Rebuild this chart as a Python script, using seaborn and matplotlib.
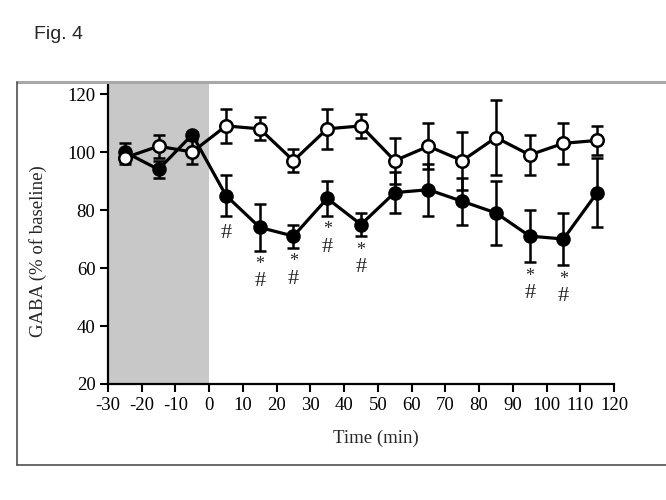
import matplotlib
matplotlib.use("Agg")
import matplotlib.pyplot as plt
from matplotlib.lines import Line2D
import seaborn as sns
import pandas as pd
import numpy as np

# ---- data ----
time = [-25, -15, -5, 5, 15, 25, 35, 45, 55, 65, 75, 85, 95, 105, 115]
control_mean = [98, 102, 100, 109, 108, 97, 108, 109, 97, 102, 97, 105, 99, 103, 104]
control_sem = [2, 4, 4, 6, 4, 4, 7, 4, 8, 8, 10, 13, 7, 7, 5]
treated_mean = [100, 94, 106, 85, 74, 71, 84, 75, 86, 87, 83, 79, 71, 70, 86]
treated_sem = [3, 3, 1, 7, 8, 4, 6, 4, 7, 9, 8, 11, 9, 9, 12]
sig_labels = ["", "", "", "#", "*\n#", "*\n#", "*\n#", "*\n#", "", "", "", "", "*\n#", "*\n#", ""]
x_ticks = [-30, -20, -10, 0, 10, 20, 30, 40, 50, 60, 70, 80, 90, 100, 110, 120]
y_ticks = [20, 40, 60, 80, 100, 120]

df = pd.DataFrame({"time": time * 2,
                   "value": control_mean + treated_mean,
                   "group": ["control"] * len(time) + ["treated"] * len(time)})

sns.set_style("ticks")
plt.rcParams["font.family"] = ["Liberation Serif", "DejaVu Serif"]
plt.rcParams["axes.unicode_minus"] = False

fig = plt.figure(figsize=(6.66, 5.0), dpi=100)
ax = fig.add_axes([0.162, 0.232, 0.922 - 0.162, 0.834 - 0.232])

ax.axvspan(-30, 0, color="#c8c8c8", lw=0, zorder=0)

# error bars
ax.errorbar(time, treated_mean, yerr=treated_sem, fmt="none", ecolor="black",
            elinewidth=1.8, capsize=4.2, capthick=1.8, zorder=2)
ax.errorbar(time, control_mean, yerr=control_sem, fmt="none", ecolor="black",
            elinewidth=1.8, capsize=4.2, capthick=1.8, zorder=2)

sns.lineplot(data=df[df.group == "treated"], x="time", y="value", ax=ax,
             color="black", lw=2.3, marker="o", markersize=9,
             markerfacecolor="black", markeredgecolor="black", markeredgewidth=1.5,
             zorder=3, legend=False)
sns.lineplot(data=df[df.group == "control"], x="time", y="value", ax=ax,
             color="black", lw=2.3, marker="o", markersize=9,
             markerfacecolor="white", markeredgecolor="black", markeredgewidth=1.8,
             zorder=4, legend=False)

# significance marks below treated error bars
for t, m, s, lab in zip(time, treated_mean, treated_sem, sig_labels):
    if not lab:
        continue
    low = m - s
    if lab == "#":
        ax.text(t, low - 6.0, "#", ha="center", va="center", fontsize=16)
    else:
        ax.text(t, low - 4.8, "*", ha="center", va="center", fontsize=13)
        ax.text(t, low - 10.8, "#", ha="center", va="center", fontsize=16)

ax.set_xlim(-30, 120)
ax.set_ylim(20, 123.8)
ax.set_xticks(x_ticks)
ax.set_yticks(y_ticks)
ax.tick_params(direction="out", length=6, width=1.5, labelsize=13.5, colors="black", pad=3)
for sp in ["top", "right"]:
    ax.spines[sp].set_visible(False)
for sp in ["left", "bottom"]:
    ax.spines[sp].set_linewidth(1.6)
    ax.spines[sp].set_color("black")
ax.set_xlabel("Time (min)", fontsize=13.5)
ax.set_ylabel("GABA (% of baseline)", fontsize=13.5)
ax.xaxis.set_label_coords(0.53, -46 / 301, transform=ax.transAxes)
ax.yaxis.set_label_coords(-61 / 506, 0.44, transform=ax.transAxes)

# figure frame
x0, y0, y1 = 16.5 / 666, 1 - 465 / 500, 1 - 82 / 500
fig.add_artist(Line2D([x0, 1.0], [y1, y1], transform=fig.transFigure, color="#a8a8a8", lw=2.2))
fig.add_artist(Line2D([x0, x0], [y0, y1], transform=fig.transFigure, color="#505050", lw=1.2))
fig.add_artist(Line2D([x0, 1.0], [y0, y0], transform=fig.transFigure, color="#505050", lw=1.2))

fig.text(34 / 666, 1 - 34 / 500, "Fig. 4", fontsize=14, family=["Liberation Sans", "DejaVu Sans"],
         ha="left", va="center")

fig.savefig("out.png", dpi=100)
